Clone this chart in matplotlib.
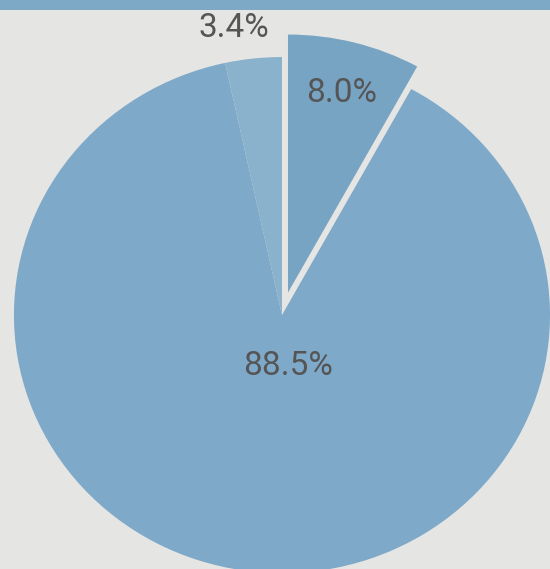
import numpy as np
import matplotlib.pyplot as plt

# Data
labels = ['8.0%', '88.5%', '3.4%']
values = [8.0, 88.5, 3.4]
colors = ['#78a4c4', '#7ea9c9', '#8ab2cd']
explode = [0.09, 0, 0]

fig = plt.figure(figsize=(5.5, 5.69), dpi=100)
fig.patch.set_facecolor('#e5e5e3')
ax = fig.add_axes([0, 0, 1, 1])
ax.set_facecolor('#e5e5e3')

wedges, _ = ax.pie(values, colors=colors, explode=explode, startangle=90,
                   counterclock=False, radius=1.0,
                   wedgeprops=dict(linewidth=0))

ax.set_aspect('auto')
ax.set_xlim(-1.052, 1.0)
ax.set_ylim(-0.984, 1.221)
ax.axis('off')

# top blue band
ax.axhspan(1.183, 1.221, color='#7da8c6', lw=0)

# labels
lab_r = [0.80, 0.2, 1.12]
nudge = [(0.0, 0.0), (0.05, 0.0), (-0.06, 0.0)]
for w, lab, r, (nx, ny) in zip(wedges, labels, lab_r, nudge):
    ang = np.deg2rad((w.theta1 + w.theta2) / 2)
    cx, cy = w.center
    x = cx + r * np.cos(ang) + nx
    y = cy + r * np.sin(ang) + ny
    ax.text(x, y, lab, ha='center', va='center', fontsize=24,
            family='Roboto', color='#555555')

plt.savefig('out.png', dpi=100, facecolor=fig.get_facecolor())
